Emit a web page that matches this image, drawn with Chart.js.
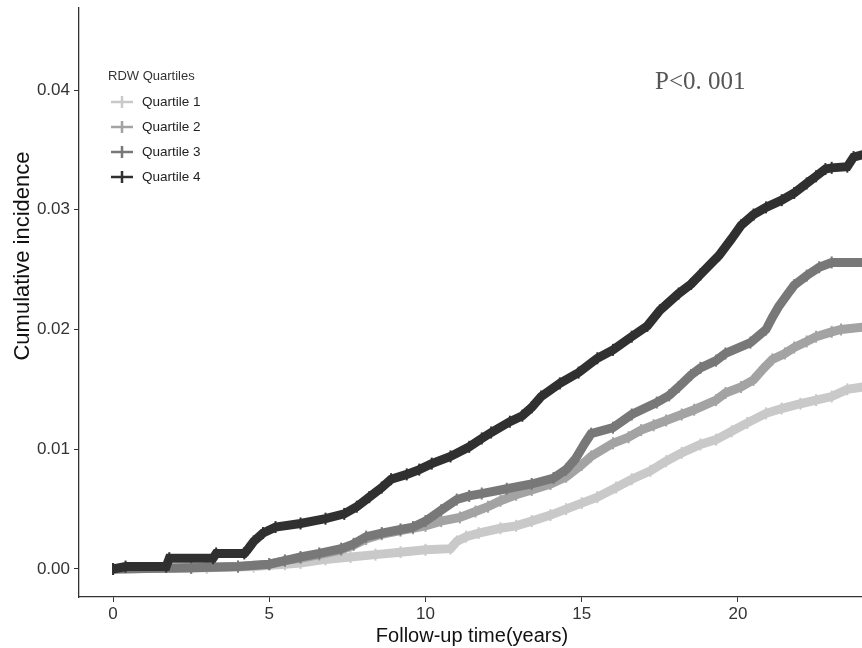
<!DOCTYPE html>
<html>
<head>
<meta charset="utf-8">
<title>RDW quartiles - cumulative incidence</title>
<script src="https://cdn.jsdelivr.net/npm/chart.js@4"></script>
<style>
  html, body { margin: 0; padding: 0; background: #fff; }
  #wrap { width: 862px; height: 648px; }
</style>
</head>
<body>
<div id="wrap"><canvas id="kmChart" width="862" height="648"></canvas></div>
<script>
// values (follow-up years / cumulative incidence)
const seriesNames = ['Quartile 1', 'Quartile 2', 'Quartile 3', 'Quartile 4'];
const seriesColors = ['#c9c9c9', '#a3a3a3', '#787878', '#303030'];

const q1Time = [0, 3.0, 4.5, 5.5, 6.0, 6.8, 7.6, 8.4, 9.2, 10.0, 10.8, 11.0, 11.3, 11.7, 12.4, 12.9, 13.4, 14.0, 14.5, 15.0, 15.5, 16.1, 16.6, 17.2, 17.7, 18.2, 18.8, 19.3, 19.8, 20.3, 20.9, 21.4, 22.0, 22.5, 23.0, 23.5, 24.0];
const q1Value = [0, 0.0001, 0.0002, 0.0004, 0.0005, 0.0008, 0.0010, 0.0012, 0.0014, 0.0016, 0.0017, 0.0023, 0.0027, 0.0030, 0.0034, 0.0036, 0.0040, 0.0045, 0.0050, 0.0055, 0.0060, 0.0068, 0.0075, 0.0082, 0.0090, 0.0097, 0.0104, 0.0108, 0.0115, 0.0122, 0.0130, 0.0134, 0.0138, 0.0141, 0.0144, 0.0150, 0.0152];

const q2Time = [0, 2.5, 4.0, 5.0, 5.5, 6.0, 6.6, 7.3, 7.7, 8.1, 8.6, 9.2, 9.6, 10.0, 10.5, 11.1, 11.6, 12.0, 12.4, 12.9, 13.4, 14.0, 14.5, 15.0, 15.3, 16.0, 16.5, 16.9, 17.3, 17.7, 18.2, 18.6, 19.3, 19.6, 20.1, 20.5, 20.8, 21.1, 21.5, 21.8, 22.2, 22.5, 23.0, 23.3, 24.0];
const q2Value = [0, 0.0001, 0.0002, 0.0004, 0.0007, 0.0009, 0.0012, 0.0016, 0.0020, 0.0025, 0.0029, 0.0032, 0.0034, 0.0036, 0.0040, 0.0043, 0.0048, 0.0052, 0.0057, 0.0062, 0.0066, 0.0071, 0.0077, 0.0087, 0.0094, 0.0105, 0.0110, 0.0116, 0.0120, 0.0124, 0.0129, 0.0133, 0.0141, 0.0147, 0.0152, 0.0158, 0.0167, 0.0175, 0.0180, 0.0185, 0.0190, 0.0194, 0.0198, 0.0200, 0.0202];

const q3Time = [0, 2.5, 4.0, 5.0, 5.5, 6.0, 6.6, 7.3, 7.7, 8.1, 8.6, 9.2, 9.6, 10.0, 10.5, 11.0, 11.4, 11.8, 12.6, 13.4, 14.1, 14.5, 14.8, 15.1, 15.3, 16.0, 16.6, 17.4, 17.8, 18.1, 18.5, 18.8, 19.3, 19.6, 20.4, 20.9, 21.1, 21.3, 21.6, 21.8, 22.2, 22.6, 23.0, 24.0];
const q3Value = [0, 0.0001, 0.0002, 0.0004, 0.0007, 0.0010, 0.0013, 0.0017, 0.0021, 0.0027, 0.0030, 0.0033, 0.0035, 0.0040, 0.0049, 0.0058, 0.0061, 0.0063, 0.0067, 0.0071, 0.0076, 0.0083, 0.0092, 0.0105, 0.0113, 0.0118, 0.0129, 0.0139, 0.0145, 0.0152, 0.0162, 0.0168, 0.0174, 0.0180, 0.0189, 0.0200, 0.0210, 0.0219, 0.0230, 0.0237, 0.0245, 0.0252, 0.0256, 0.0256];

const q4Time = [0, 0.4, 1.7, 1.8, 3.2, 3.3, 4.2, 4.3, 4.5, 4.8, 5.2, 6.0, 6.8, 7.4, 7.8, 8.2, 8.6, 8.9, 9.4, 9.8, 10.2, 10.8, 11.4, 11.8, 12.1, 12.7, 13.1, 13.4, 13.7, 14.3, 14.9, 15.5, 16.0, 16.6, 17.1, 17.5, 18.1, 18.5, 18.8, 19.4, 19.8, 20.1, 20.5, 20.9, 21.4, 21.8, 22.2, 22.5, 22.8, 23.0, 23.5, 23.7, 24.0];
const q4Value = [0, 0.0002, 0.0002, 0.0009, 0.0009, 0.0013, 0.0013, 0.0016, 0.0023, 0.0030, 0.0035, 0.0038, 0.0042, 0.0046, 0.0052, 0.0060, 0.0068, 0.0075, 0.0079, 0.0083, 0.0088, 0.0094, 0.0102, 0.0109, 0.0114, 0.0123, 0.0128, 0.0135, 0.0144, 0.0155, 0.0164, 0.0176, 0.0183, 0.0194, 0.0203, 0.0216, 0.0230, 0.0238, 0.0246, 0.0262, 0.0276, 0.0287, 0.0296, 0.0302, 0.0308, 0.0314, 0.0322, 0.0328, 0.0334, 0.0335, 0.0336, 0.0344, 0.0346];

const xTicks = [0, 5, 10, 15, 20];
const yTicks = [0, 0.01, 0.02, 0.03, 0.04];
const legendTitle = 'RDW Quartiles';
const pLabel = 'P<0. 001';
const xTitle = 'Follow-up time(years)';
const yTitle = 'Cumulative incidence';

const times = [q1Time, q2Time, q3Time, q4Time];
const values = [q1Value, q2Value, q3Value, q4Value];

const datasets = seriesNames.map((name, i) => ({
    label: name,
    data: times[i].map((t, j) => ({ x: t, y: values[i][j] })),
    borderColor: seriesColors[i],
    backgroundColor: seriesColors[i],
    borderWidth: 9,
    borderJoinStyle: 'miter',
    tension: 0,
    pointStyle: 'line',
    rotation: 90,
    pointRadius: 6,
    pointBorderWidth: 2,
    pointBorderColor: seriesColors[i],
    order: 3 - i
}));

// legend, p-value and axis titles drawn straight on the canvas
const annotations = {
    id: 'annotations',
    afterDraw(chart) {
        const ctx = chart.ctx;
        ctx.save();
        ctx.textBaseline = 'middle';
        ctx.textAlign = 'left';
        ctx.fillStyle = '#333';
        ctx.font = '13px "Liberation Sans", Arial, sans-serif';
        ctx.fillText(legendTitle, 108, 76);

        seriesNames.forEach((name, i) => {
            const y = 102 + i * 25;
            ctx.strokeStyle = seriesColors[i];
            ctx.lineWidth = 2.5;
            ctx.beginPath();
            ctx.moveTo(111, y);
            ctx.lineTo(133, y);
            ctx.moveTo(122, y - 6);
            ctx.lineTo(122, y + 6);
            ctx.stroke();
            ctx.fillStyle = '#222';
            ctx.font = '13.5px "Liberation Sans", Arial, sans-serif';
            ctx.fillText(name, 142, y);
        });

        ctx.fillStyle = '#555';
        ctx.font = '25px "Liberation Serif", "DejaVu Serif", serif';
        ctx.textBaseline = 'alphabetic';
        ctx.fillText(pLabel, 655, 89);

        ctx.fillStyle = '#111';
        ctx.textAlign = 'center';
        ctx.textBaseline = 'middle';
        ctx.font = '20px "Liberation Sans", Arial, sans-serif';
        ctx.fillText(xTitle, 472, 636);

        ctx.translate(23, 256);
        ctx.rotate(-Math.PI / 2);
        ctx.font = '22px "Liberation Sans", Arial, sans-serif';
        ctx.fillText(yTitle, 0, 0);
        ctx.restore();
    }
};

const ctx = document.getElementById('kmChart').getContext('2d');
const chart = new Chart(ctx, {
    type: 'line',
    data: { datasets: datasets },
    options: {
        responsive: false,
        animation: false,
        layout: { autoPadding: false, padding: { top: 8, right: 0, bottom: 0, left: 0 } },
        plugins: {
            legend: { display: false },
            tooltip: { enabled: false }
        },
        scales: {
            x: {
                type: 'linear',
                min: -1.09,
                max: 23.97,
                afterBuildTicks: axis => { axis.ticks = xTicks.map(v => ({ value: v })); },
                afterFit: axis => { axis.height = 51; axis.paddingLeft = 0; axis.paddingRight = 0; },
                grid: { display: true, drawOnChartArea: false, drawTicks: true, tickLength: 5, color: '#333' },
                border: { display: true, color: '#333', width: 1.3 },
                ticks: {
                    color: '#333',
                    padding: 2,
                    maxRotation: 0,
                    font: { family: '"Liberation Sans", Arial, sans-serif', size: 17 }
                }
            },
            y: {
                type: 'linear',
                min: -0.00234,
                max: 0.04685,
                afterBuildTicks: axis => { axis.ticks = yTicks.map(v => ({ value: v })); },
                afterFit: axis => { axis.width = 79; axis.paddingTop = 0; axis.paddingBottom = 0; },
                grid: { display: true, drawOnChartArea: false, drawTicks: true, tickLength: 5, color: '#333' },
                border: { display: true, color: '#333', width: 1.3 },
                ticks: {
                    color: '#333',
                    padding: 4,
                    callback: v => v.toFixed(2),
                    font: { family: '"Liberation Sans", Arial, sans-serif', size: 17 }
                }
            }
        }
    },
    plugins: [annotations]
});
</script>
</body>
</html>
